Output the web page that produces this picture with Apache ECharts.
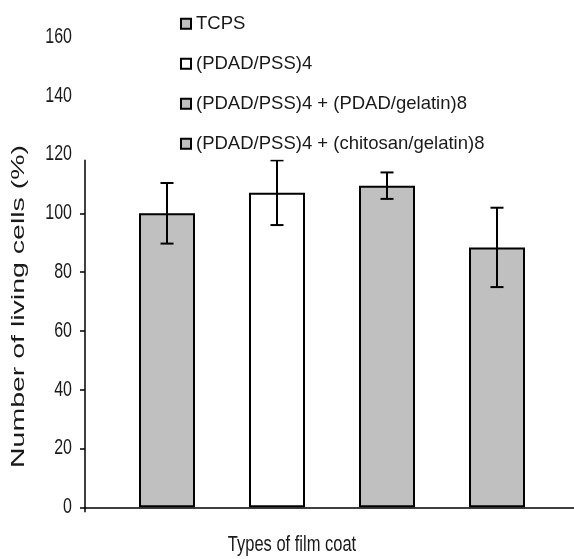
<!DOCTYPE html>
<html>
<head>
<meta charset="utf-8">
<script src="https://cdn.jsdelivr.net/npm/echarts@6/dist/echarts.min.js"></script>
<style>
html,body{margin:0;padding:0;background:#fff;}
#c{width:574px;height:559px;}
</style>
</head>
<body>
<div id="c"></div>
<script>
// ---- data ----
const categories = ['TCPS', '(PDAD/PSS)4', '(PDAD/PSS)4 + (PDAD/gelatin)8', '(PDAD/PSS)4 + (chitosan/gelatin)8'];
const positions = [1, 2, 3, 4];
const values = [100, 107, 109.4, 88.4];
const errors = [10.3, 11, 4.5, 13.5];
const fills = ['#c0c0c0', '#ffffff', '#c0c0c0', '#c0c0c0'];
const yTicks = [0, 20, 40, 60, 80, 100, 120, 140, 160];
const yTitle = 'Number of living cells (%)';
const xTitle = 'Types of film coat';
const xMin = 0.2545, xMax = 4.7;

const FONT = 'Liberation Sans';
const chart = echarts.init(document.getElementById('c'), null, {renderer: 'canvas'});

const barSeries = categories.map((name, i) => ({
  name: name,
  type: 'bar',
  barWidth: 56,
  barGap: '-100%',
  data: [[positions[i], values[i]]],
  itemStyle: {color: fills[i], borderColor: '#000', borderWidth: 2},
  z: 2
}));

const errSeries = {
  type: 'custom',
  name: 'err',
  z: 3,
  data: positions.map((p, i) => [p, values[i] - errors[i], values[i] + errors[i]]),
  encode: {x: 0, y: [1, 2]},
  renderItem: function (params, api) {
    const x = api.value(0);
    const pHi = api.coord([x, api.value(2)]);
    const pLo = api.coord([x, api.value(1)]);
    const hw = 6.5;
    const st = {stroke: '#000', lineWidth: 2};
    return {
      type: 'group',
      children: [
        {type: 'line', shape: {x1: pHi[0], y1: pHi[1], x2: pLo[0], y2: pLo[1]}, style: st},
        {type: 'line', shape: {x1: pHi[0] - hw, y1: pHi[1], x2: pHi[0] + hw, y2: pHi[1]}, style: st},
        {type: 'line', shape: {x1: pLo[0] - hw, y1: pLo[1], x2: pLo[0] + hw, y2: pLo[1]}, style: st}
      ]
    };
  }
};

const titleGraphics = [
  {
    type: 'text',
    x: 18.5, y: 306.5,
    rotation: Math.PI / 2,
    scaleX: 1.5,
    style: {text: yTitle, fontFamily: FONT, fontSize: 19, fill: '#1a1a1a', align: 'center', verticalAlign: 'middle'}
  },
  {
    type: 'text',
    x: 292, y: 545,
    scaleY: 1.35,
    style: {text: xTitle, fontFamily: FONT, fontSize: 16.5, fill: '#1a1a1a', align: 'center', verticalAlign: 'middle'}
  }
];

chart.setOption({
  animation: false,
  backgroundColor: '#fff',
  grid: {left: 85, right: 0, top: 36.9, bottom: 51.7, containLabel: false},
  legend: {
    data: categories,
    orient: 'vertical',
    left: 78,
    top: 0,
    padding: [12.7, 8, 5, 102],
    backgroundColor: '#fff',
    itemWidth: 10,
    itemHeight: 10,
    itemGap: 18,
    icon: 'rect',
    selectedMode: false,
    textStyle: {fontFamily: FONT, fontSize: 18.5, lineHeight: 22, color: '#1a1a1a'}
  },
  xAxis: {
    type: 'value',
    min: xMin,
    max: xMax,
    interval: 100,
    axisLine: {show: true, lineStyle: {color: '#000', width: 1.5}},
    axisTick: {show: true, length: 5, customValues: [xMin], lineStyle: {color: '#000', width: 1.5}},
    axisLabel: {show: false},
    splitLine: {show: false}
  },
  yAxis: {
    type: 'value',
    min: yTicks[0],
    max: yTicks[yTicks.length - 1],
    interval: 20,
    axisLine: {show: true, lineStyle: {color: '#000', width: 1.5}},
    axisTick: {show: true, length: 5, lineStyle: {color: '#000', width: 1.5}},
    axisLabel: {show: false},
    splitLine: {show: false}
  },
  graphic: titleGraphics,
  series: barSeries.concat([errSeries])
});

// y tick labels placed through the axis scale, stretched vertically like the source
const axisX = chart.convertToPixel({xAxisIndex: 0}, xMin);
const labelGraphics = yTicks.map(v => ({
  type: 'text',
  x: axisX - 13,
  y: chart.convertToPixel({yAxisIndex: 0}, v),
  scaleY: 1.35,
  z: 0,
  style: {text: String(v), fontFamily: FONT, fontSize: 16, fill: '#1a1a1a', align: 'right', verticalAlign: 'middle'}
}));
chart.setOption({graphic: titleGraphics.concat(labelGraphics)});
</script>
</body>
</html>
